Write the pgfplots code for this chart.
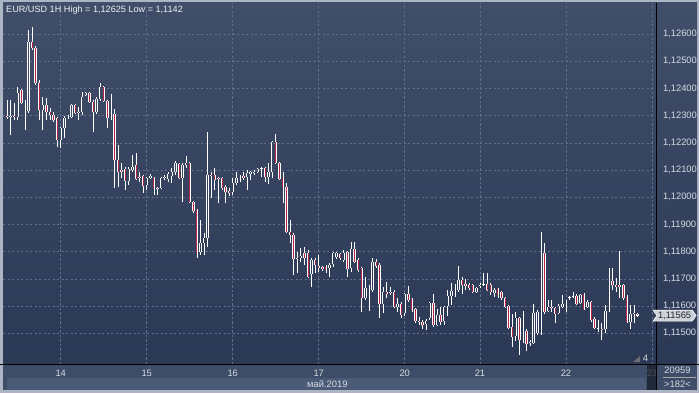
\documentclass[border=0pt]{standalone}
\usepackage{fontspec}
\setmainfont{Liberation Sans}
\usepackage{pgfplots}
\pgfplotsset{compat=1.18}
\usepackage{pgfplotstable}
\usetikzlibrary{shapes.symbols}
\pgfdeclarelayer{bg}
\pgfsetlayers{bg,main}

\definecolor{bgtop}{RGB}{64,78,106}
\definecolor{bgbot}{RGB}{44,57,86}
\definecolor{bgA}{RGB}{60,74,102}
\definecolor{bgB}{RGB}{52,66,94}
\definecolor{bgC}{RGB}{47,60,89}
\definecolor{gridc}{RGB}{96,111,140}
\definecolor{bearc}{RGB}{178,38,72}
\definecolor{framec}{RGB}{172,181,196}
\definecolor{bandA}{RGB}{61,76,103}
\definecolor{bandB}{RGB}{75,90,118}
\definecolor{txtc}{RGB}{214,219,227}
\definecolor{pricebg}{RGB}{205,210,218}

\pgfplotsset{
  cbar/.style 2 args={forget plot, draw=none, mark=none,
    /pgfplots/error bars/y dir=plus, /pgfplots/error bars/y explicit,
    /pgfplots/error bars/error mark=none,
    /pgfplots/error bars/error bar style={draw=#1, line width=#2}},
}

\pgfplotstableread{
i o h l c
0 1.12299 1.12357 1.12288 1.12295
1 1.12295 1.12357 1.12229 1.12299
2 1.12299 1.12346 1.12284 1.12295
3 1.12295 1.12405 1.12284 1.12383
4 1.12394 1.12398 1.12343 1.12346
5 1.12317 1.12357 1.12247 1.12339
6 1.12317 1.12615 1.12310 1.12571
7 1.12571 1.12625 1.12541 1.12549
8 1.12549 1.12556 1.12413 1.12420
9 1.12420 1.12431 1.12284 1.12321
10 1.12321 1.12368 1.12247 1.12339
11 1.12339 1.12365 1.12284 1.12313
12 1.12313 1.12328 1.12284 1.12302
13 1.12302 1.12313 1.12277 1.12284
14 1.12291 1.12295 1.12185 1.12210
15 1.12210 1.12258 1.12181 1.12255
16 1.12255 1.12299 1.12218 1.12291
17 1.12291 1.12302 1.12288 1.12295
18 1.12295 1.12343 1.12291 1.12339
19 1.12339 1.12343 1.12306 1.12310
20 1.12310 1.12332 1.12284 1.12313
21 1.12313 1.12387 1.12302 1.12368
22 1.12376 1.12387 1.12372 1.12383
23 1.12383 1.12387 1.12346 1.12350
24 1.12350 1.12357 1.12240 1.12313
25 1.12313 1.12368 1.12306 1.12361
26 1.12361 1.12420 1.12354 1.12405
27 1.12405 1.12409 1.12350 1.12354
28 1.12354 1.12357 1.12255 1.12291
29 1.12291 1.12380 1.12284 1.12302
30 1.12306 1.12324 1.12034 1.12137
31 1.12137 1.12192 1.12038 1.12093
32 1.12100 1.12126 1.12071 1.12093
33 1.12104 1.12111 1.12027 1.12060
34 1.12060 1.12111 1.12045 1.12104
35 1.12100 1.12155 1.12093 1.12111
36 1.12119 1.12163 1.12063 1.12067
37 1.12074 1.12093 1.12056 1.12071
38 1.12078 1.12082 1.12016 1.12041
39 1.12045 1.12074 1.12027 1.12071
40 1.12071 1.12085 1.12067 1.12078
41 1.12071 1.12074 1.12008 1.12034
42 1.12034 1.12038 1.12008 1.12030
43 1.12034 1.12074 1.12030 1.12071
44 1.12071 1.12082 1.12063 1.12074
45 1.12067 1.12093 1.12056 1.12085
46 1.12078 1.12107 1.12052 1.12093
47 1.12093 1.12133 1.12082 1.12126
48 1.12122 1.12126 1.12067 1.12071
49 1.12071 1.12126 1.11982 1.12119
50 1.12119 1.12152 1.12107 1.12126
51 1.12126 1.12130 1.11979 1.11982
52 1.11982 1.11986 1.11942 1.11949
53 1.11953 1.11957 1.11777 1.11795
54 1.11799 1.11916 1.11788 1.11832
55 1.11832 1.11869 1.11788 1.11850
56 1.11850 1.12240 1.11817 1.12082
57 1.12082 1.12093 1.11997 1.12078
58 1.12082 1.12107 1.12027 1.12063
59 1.12071 1.12074 1.11979 1.12067
60 1.12071 1.12074 1.12027 1.12034
61 1.12038 1.12045 1.11979 1.12019
62 1.12023 1.12034 1.12005 1.12016
63 1.12019 1.12071 1.12008 1.12052
64 1.12052 1.12093 1.12045 1.12071
65 1.12071 1.12082 1.12056 1.12074
66 1.12078 1.12093 1.12063 1.12071
67 1.12074 1.12100 1.12027 1.12089
68 1.12085 1.12096 1.12063 1.12093
69 1.12089 1.12100 1.12082 1.12093
70 1.12093 1.12107 1.12089 1.12104
71 1.12104 1.12111 1.12074 1.12107
72 1.12107 1.12111 1.12056 1.12074
73 1.12074 1.12126 1.12049 1.12093
74 1.12093 1.12207 1.12071 1.12203
75 1.12203 1.12232 1.12122 1.12126
76 1.12126 1.12130 1.12063 1.12067
77 1.12071 1.12093 1.11979 1.12038
78 1.12038 1.12052 1.11869 1.11872
79 1.11872 1.11916 1.11832 1.11861
80 1.11861 1.11869 1.11714 1.11773
81 1.11777 1.11799 1.11722 1.11773
82 1.11777 1.11813 1.11762 1.11784
83 1.11795 1.11817 1.11751 1.11777
84 1.11795 1.11806 1.11703 1.11707
85 1.11718 1.11777 1.11670 1.11769
86 1.11769 1.11777 1.11722 1.11751
87 1.11747 1.11788 1.11725 1.11740
88 1.11744 1.11747 1.11729 1.11736
89 1.11744 1.11751 1.11722 1.11733
90 1.11740 1.11758 1.11707 1.11751
91 1.11755 1.11797 1.11744 1.11795
92 1.11780 1.11799 1.11773 1.11795
93 1.11791 1.11795 1.11769 1.11777
94 1.11769 1.11806 1.11762 1.11795
95 1.11799 1.11802 1.11707 1.11736
96 1.11740 1.11835 1.11725 1.11810
97 1.11810 1.11835 1.11758 1.11762
98 1.11769 1.11777 1.11725 1.11733
99 1.11740 1.11744 1.11578 1.11630
100 1.11630 1.11707 1.11622 1.11666
101 1.11652 1.11677 1.11582 1.11666
102 1.11659 1.11777 1.11652 1.11762
103 1.11762 1.11773 1.11740 1.11747
104 1.11751 1.11758 1.11556 1.11608
105 1.11608 1.11670 1.11574 1.11652
106 1.11652 1.11688 1.11630 1.11644
107 1.11648 1.11670 1.11641 1.11652
108 1.11652 1.11659 1.11593 1.11597
109 1.11597 1.11630 1.11578 1.11608
110 1.11608 1.11615 1.11556 1.11567
111 1.11574 1.11648 1.11563 1.11644
112 1.11644 1.11674 1.11615 1.11622
113 1.11626 1.11630 1.11578 1.11585
114 1.11589 1.11593 1.11538 1.11545
115 1.11545 1.11560 1.11530 1.11541
116 1.11541 1.11549 1.11516 1.11530
117 1.11534 1.11552 1.11512 1.11545
118 1.11556 1.11615 1.11549 1.11611
119 1.11611 1.11644 1.11523 1.11530
120 1.11530 1.11589 1.11527 1.11567
121 1.11567 1.11597 1.11530 1.11541
122 1.11545 1.11600 1.11530 1.11597
123 1.11600 1.11659 1.11563 1.11637
124 1.11637 1.11685 1.11604 1.11655
125 1.11648 1.11681 1.11633 1.11666
126 1.11659 1.11747 1.11652 1.11696
127 1.11696 1.11707 1.11644 1.11677
128 1.11681 1.11699 1.11659 1.11674
129 1.11677 1.11685 1.11659 1.11666
130 1.11677 1.11681 1.11648 1.11652
131 1.11652 1.11670 1.11648 1.11666
132 1.11674 1.11685 1.11666 1.11677
133 1.11677 1.11722 1.11675 1.11679
134 1.11681 1.11722 1.11655 1.11659
135 1.11677 1.11685 1.11641 1.11652
136 1.11648 1.11666 1.11633 1.11659
137 1.11663 1.11666 1.11630 1.11641
138 1.11652 1.11654 1.11622 1.11630
139 1.11630 1.11633 1.11593 1.11597
140 1.11600 1.11604 1.11516 1.11519
141 1.11523 1.11571 1.11449 1.11486
142 1.11490 1.11578 1.11472 1.11556
143 1.11556 1.11560 1.11420 1.11475
144 1.11475 1.11582 1.11464 1.11505
145 1.11508 1.11516 1.11435 1.11461
146 1.11464 1.11475 1.11453 1.11468
147 1.11464 1.11608 1.11461 1.11574
148 1.11501 1.11585 1.11494 1.11578
149 1.11505 1.11872 1.11494 1.11791
150 1.11795 1.11832 1.11571 1.11578
151 1.11582 1.11622 1.11578 1.11597
152 1.11597 1.11622 1.11578 1.11593
153 1.11593 1.11597 1.11538 1.11571
154 1.11574 1.11608 1.11571 1.11600
155 1.11597 1.11641 1.11593 1.11608
156 1.11604 1.11622 1.11578 1.11619
157 1.11630 1.11637 1.11622 1.11633
158 1.11637 1.11652 1.11630 1.11635
159 1.11637 1.11644 1.11604 1.11608
160 1.11611 1.11644 1.11608 1.11641
161 1.11644 1.11648 1.11585 1.11589
162 1.11597 1.11622 1.11593 1.11615
163 1.11615 1.11619 1.11541 1.11549
164 1.11552 1.11560 1.11516 1.11519
165 1.11519 1.11549 1.11505 1.11516
166 1.11516 1.11538 1.11475 1.11512
167 1.11516 1.11604 1.11501 1.11582
168 1.11582 1.11740 1.11578 1.11692
169 1.11692 1.11740 1.11659 1.11677
170 1.11677 1.11703 1.11652 1.11670
171 1.11677 1.11802 1.11630 1.11670
172 1.11677 1.11681 1.11622 1.11630
173 1.11633 1.11641 1.11538 1.11541
174 1.11541 1.11604 1.11516 1.11571
175 1.11571 1.11604 1.11538 1.11574
176 1.11571 1.11574 1.11560 1.11565
}\candles

\begin{document}
\begin{tikzpicture}[x=1bp,y=1bp]
\begin{axis}[
  scale only axis, width=653bp, height=361bp,
  xmin=-1.116, xmax=181.13,
  ymin=1.11387, ymax=1.12714,
  axis background/.style={top color=bgtop,bottom color=bgbot},
  axis line style={draw=none},
  major tick length=0pt,
  xtick={15,39,63,87,111,132,156,180},
  xticklabels={14,15,16,17,20,21,22,23},
  ytick={1.115,1.116,1.117,1.118,1.119,1.120,1.121,1.122,1.123,1.124,1.125,1.126},
  scaled y ticks=false,
  yticklabel pos=right,
  ticklabel style={font=\fontsize{9.4}{11}\selectfont, text=txtc},
  yticklabel style={xshift=3.5bp, /pgf/number format/fixed, /pgf/number format/fixed zerofill,
    /pgf/number format/precision=5, /pgf/number format/use comma, /pgf/number format/assume math mode=true},
  xticklabel style={yshift=-2.5bp},
  grid=major,
  major grid style={gridc, line width=0.6bp, dash pattern=on 2.2bp off 2.3bp},
]
% wicks
\addplot[cbar={white}{0.75bp}] table[x=i, y=l, y error plus expr={\thisrow{h}-\thisrow{l}}] {\candles};
% body outline
\addplot[cbar={white}{2.45bp}] table[x=i, y expr={min(\thisrow{o},\thisrow{c})-0.000013}, y error plus expr={abs(\thisrow{c}-\thisrow{o})+0.000026}] {\candles};
% bear interior
\addplot[restrict expr to domain={\thisrow{o}-\thisrow{c}}{0.00003:1}, cbar={bearc}{0.95bp}] table[x=i, y expr={\thisrow{c}+0.000013}, y error plus expr={\thisrow{o}-\thisrow{c}-0.000026}] {\candles};
% bull interior (hollow)
\addplot[restrict expr to domain={\thisrow{c}-\thisrow{o}}{0.00003:1}, restrict y to domain=1.1205:1.13, cbar={bgA}{0.95bp}] table[x=i, y expr={\thisrow{o}+0.000013}, y error plus expr={\thisrow{c}-\thisrow{o}-0.000026}] {\candles};
\addplot[restrict expr to domain={\thisrow{c}-\thisrow{o}}{0.00003:1}, restrict y to domain=1.1180:1.1205, cbar={bgB}{0.95bp}] table[x=i, y expr={\thisrow{o}+0.000013}, y error plus expr={\thisrow{c}-\thisrow{o}-0.000026}] {\candles};
\addplot[restrict expr to domain={\thisrow{c}-\thisrow{o}}{0.00003:1}, restrict y to domain=1.11:1.1180, cbar={bgC}{0.95bp}] table[x=i, y expr={\thisrow{o}+0.000013}, y error plus expr={\thisrow{c}-\thisrow{o}-0.000026}] {\candles};
\coordinate (pricept) at (axis cs:181.13,1.11565);
\coordinate (SW) at (rel axis cs:0,0);
\end{axis}

\begin{pgfonlayer}{bg}
\begin{scope}[shift={(SW)}, xshift=-3bp, yshift=-29bp]
\fill[framec] (0,0) rectangle (699,393);
\fill[bandA] (3,3) rectangle (697,29);
\fill[bandB] (7,3) rectangle (646,15.5);
\shade[top color=bgtop,bottom color=bgbot] (656,29) rectangle (697,390);
\end{scope}
\end{pgfonlayer}

\begin{scope}[shift={(SW)}, xshift=-3bp, yshift=-29bp]
% frame lines
\draw[black, line width=1.3bp] (0,28.6) -- (699,28.6);
\draw[black, line width=1.1bp] (656.3,3) -- (656.3,390);
% scroll block
\fill[black!60!bandA, opacity=0.75] (646.5,3) rectangle (655.6,28);
% bottom right corner
\draw[gray!70, line width=0.5bp] (663,15.5) -- (696,15.5);
\node[text=txtc, font=\fontsize{9.4}{11}\selectfont] at (677.5,22.5) {20959};
\node[text=txtc, font=\fontsize{9.4}{11}\selectfont] at (677.5,8.5) {>182<};
\node[text=txtc, font=\fontsize{9.4}{11}\selectfont, anchor=east] at (351,9) {май.2019};
% small marker
\fill[gray!75!bgbot] (633,31) -- (640,31) -- (640,37) -- cycle;
\node[text=txtc, font=\fontsize{9.4}{11}\selectfont] at (645.5,34.5) {4};
% title
\node[text=white!92!bgtop, font=\fontsize{9.15}{11}\selectfont, anchor=west, inner sep=0pt] at (6,383) {EUR/USD 1H High = 1,12625 Low = 1,1142};
\end{scope}
% price label
\node[signal, signal from=west, signal pointer angle=110, fill=pricebg, draw=white,
      line width=0.5bp, text=black!85, inner xsep=1.2bp, inner ysep=1.6bp,
      font=\fontsize{9.4}{11}\selectfont, anchor=west] at ([xshift=0.5bp]pricept) {1,11565};
\pgfresetboundingbox
\path[use as bounding box, shift={(SW)}, xshift=-3bp, yshift=-29bp] (0,0) rectangle (699,393);
\end{tikzpicture}
\end{document}
